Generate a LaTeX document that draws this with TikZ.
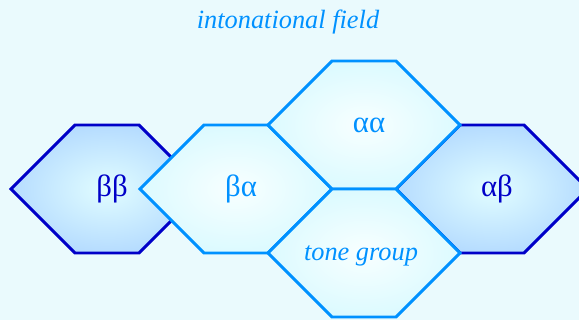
\documentclass[tikz,border=0pt]{standalone}
\usepackage{fontspec}
\setmainfont{Liberation Serif}
\definecolor{edge}{RGB}{0,145,255}
\definecolor{deep}{RGB}{0,0,200}
\definecolor{paper}{RGB}{234,250,253}
\definecolor{pale}{RGB}{196,246,255}
\definecolor{glint}{RGB}{248,255,255}
\definecolor{mist}{RGB}{225,253,255}
\definecolor{dim}{RGB}{145,192,255}
\pgfdeclareradialshading{lightglow}{\pgfpoint{0bp}{0bp}}{color(0bp)=(glint); color(46bp)=(pale); color(75bp)=(pale)}
\pgfdeclareradialshading{darkglow}{\pgfpoint{0bp}{0bp}}{color(0bp)=(mist); color(46bp)=(dim); color(75bp)=(dim)}
% one honeycomb cell round a centre
\newcommand{\hexcell}[2]{\path[#1] (#2) +(-96,0) -- +(-32,-64) -- +(32,-64) -- +(96,0) -- +(32,64) -- +(-32,64) -- cycle;}

\begin{document}
\begin{tikzpicture}[x=0.02cm,y=-0.02cm,line width=1.7pt,
  outer/.style={shading=darkglow,draw=deep},
  inner/.style={shading=lightglow,draw=edge},
  every node/.style={font=\fontsize{17.5}{20}\selectfont},
  caption/.style={text=edge,font=\fontsize{15}{18}\selectfont\itshape}]
\useasboundingbox[fill=paper] (0,0) rectangle (579,320);
\clip (0,0) rectangle (579,320);
\hexcell{outer}{107,189}
\hexcell{outer}{492,189}
\hexcell{inner}{236,189}
\hexcell{inner}{364,125}
\hexcell{inner}{364,253}
\node[caption] (title) at (288,22) {intonational field};
\node[text=deep] (bb) at (112,189) {ββ};
\node[text=edge] (ba) at (241,189) {βα};
\node[text=edge] (aa) at (369,125) {αα};
\node[text=deep] (ab) at (497,189) {αβ};
\node[caption] (tg) at (361,256) {tone group};
\end{tikzpicture}
\end{document}
